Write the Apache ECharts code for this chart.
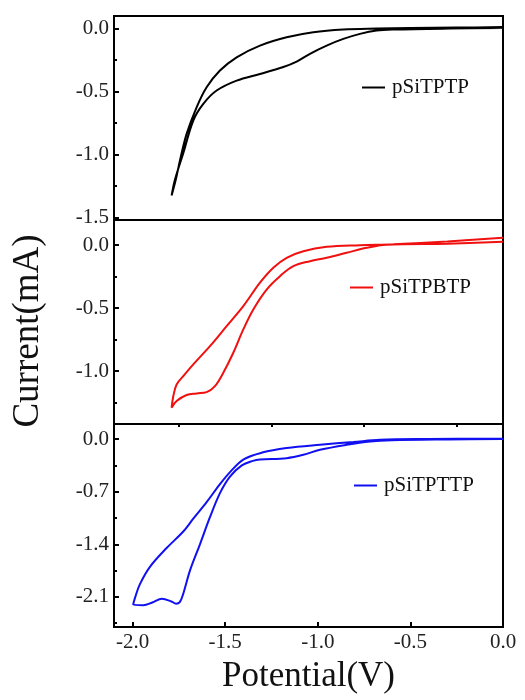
<!DOCTYPE html>
<html>
<head>
<meta charset="utf-8">
<script src="https://cdn.jsdelivr.net/npm/echarts@6/dist/echarts.min.js"></script>
<style>
  html, body { margin: 0; padding: 0; background: #fff; }
  #chart { width: 525px; height: 700px; }
</style>
</head>
<body>
<div id="chart"></div>
<script>
// [potential (V), current (mA)] - closed CV loops
var loopTPTP = [
  [0, 0.004], [-0.286, 0.0], [-0.592, -0.008], [-0.682, -0.016], [-0.772, -0.042],
  [-0.862, -0.082], [-0.952, -0.135], [-1.042, -0.2], [-1.114, -0.262], [-1.186, -0.305],
  [-1.312, -0.36], [-1.438, -0.413], [-1.546, -0.492], [-1.618, -0.598], [-1.672, -0.73],
  [-1.726, -0.99], [-1.771, -1.2], [-1.789, -1.325],
  [-1.765, -1.19], [-1.744, -1.048], [-1.708, -0.836], [-1.654, -0.625], [-1.6, -0.466],
  [-1.528, -0.333], [-1.438, -0.228], [-1.312, -0.135], [-1.168, -0.069], [-1.024, -0.029],
  [-0.862, -0.008], [-0.682, 0.0], [-0.502, 0.005], [-0.25, 0.008], [0, 0.012]
]
var loopTPBTP = [
  [0, 0.027], [-0.3, 0.012], [-0.628, 0.003], [-0.736, -0.021], [-0.844, -0.06],
  [-0.952, -0.1], [-1.042, -0.127], [-1.132, -0.167], [-1.204, -0.246], [-1.276, -0.352],
  [-1.348, -0.51], [-1.402, -0.669], [-1.456, -0.854], [-1.51, -1.013], [-1.555, -1.119],
  [-1.6, -1.167], [-1.654, -1.177], [-1.708, -1.19], [-1.762, -1.238], [-1.789, -1.29],
  [-1.78, -1.2], [-1.762, -1.106], [-1.726, -1.04], [-1.672, -0.947], [-1.582, -0.802],
  [-1.492, -0.643], [-1.402, -0.484], [-1.312, -0.298], [-1.24, -0.179], [-1.168, -0.1],
  [-1.078, -0.048], [-0.952, -0.013], [-0.772, 0.0], [-0.592, 0.008], [-0.3, 0.03], [0, 0.06]
]
var loopTPTTP = [
  [0, 0.0], [-0.3, -0.005], [-0.6, -0.015], [-0.718, -0.032], [-0.844, -0.076],
  [-0.988, -0.143], [-1.078, -0.21], [-1.168, -0.254], [-1.312, -0.272], [-1.35, -0.29],
  [-1.41, -0.35], [-1.474, -0.5], [-1.528, -0.72], [-1.582, -1.04], [-1.636, -1.4],
  [-1.69, -1.75], [-1.726, -2.057], [-1.745, -2.17], [-1.765, -2.19], [-1.79, -2.16],
  [-1.842, -2.124], [-1.89, -2.17], [-1.942, -2.21], [-1.996, -2.205],
  [-1.985, -2.1], [-1.96, -1.93], [-1.906, -1.7], [-1.816, -1.45], [-1.726, -1.23],
  [-1.672, -1.06], [-1.6, -0.84], [-1.528, -0.6], [-1.47, -0.43], [-1.4, -0.27],
  [-1.3, -0.18], [-1.168, -0.12], [-0.988, -0.076], [-0.808, -0.04], [-0.664, -0.01],
  [-0.4, 0.0], [0, 0.005]
]

var xTicks = [-2.0, -1.5, -1.0, -0.5, 0.0]
var xMinor = [-1.75, -1.25, -0.75, -0.25]
var yTicksTop = [-1.5, -1.0, -0.5, 0.0]
var yMinorTop = [-1.25, -0.75, -0.25]
var yTicksMid = [-1.0, -0.5, 0.0]
var yMinorMid = [-1.25, -0.75, -0.25]
var yTicksBot = [-2.1, -1.4, -0.7, 0.0]
var yMinorBot = [-2.45, -1.75, -1.05, -0.35]

var serif = 'Liberation Serif'
var fmt = function (v) { return v.toFixed(1) }

function yMain (grid, min, max, ticks) {
  return {
    type: 'value', gridIndex: grid, min: min, max: max, position: 'left',
    splitLine: { show: false },
    axisLine: { show: true, onZero: false, lineStyle: { color: '#000', width: 2 } },
    axisTick: { show: true, inside: true, length: 5, customValues: ticks, lineStyle: { color: '#000', width: 2 } },
    axisLabel: { show: true, customValues: ticks, formatter: fmt, margin: 5,
      fontFamily: serif, fontSize: 21, color: '#222' }
  }
}
function yMinor (grid, min, max, ticks) {
  return {
    type: 'value', gridIndex: grid, min: min, max: max, position: 'left',
    splitLine: { show: false },
    axisLine: { show: false, onZero: false },
    axisTick: { show: true, inside: true, length: 3, customValues: ticks, lineStyle: { color: '#000', width: 2 } },
    axisLabel: { show: false }
  }
}
function xPlain (grid) {
  return {
    type: 'value', gridIndex: grid, min: -2.1, max: 0,
    splitLine: { show: false },
    axisLine: { show: true, onZero: false, lineStyle: { color: '#000', width: 2 } },
    axisTick: { show: false }, axisLabel: { show: false }
  }
}
function legendAt (name, left, top) {
  return {
    data: [name], left: left, top: top, icon: 'rect', itemWidth: 23, itemHeight: 2,
    textStyle: { fontFamily: serif, fontSize: 21, color: '#111', padding: [0, 0, 0, 2] }
  }
}

var chart = echarts.init(document.getElementById('chart'))
var option = {
  animation: false,
  backgroundColor: '#fff',
  grid: [
    { left: 114, right: 22, top: 16, height: 204, show: true, borderColor: '#000', borderWidth: 2 },
    { left: 114, right: 22, top: 220, height: 204, show: true, borderColor: '#000', borderWidth: 2 },
    { left: 114, right: 22, top: 424, height: 203, show: true, borderColor: '#000', borderWidth: 2 }
  ],
  xAxis: [
    xPlain(0),
    xPlain(1),
    {
      type: 'value', gridIndex: 2, min: -2.1, max: 0,
      splitLine: { show: false },
      axisLine: { show: true, onZero: false, lineStyle: { color: '#000', width: 2 } },
      axisTick: { show: true, inside: true, length: 5, customValues: xTicks, lineStyle: { color: '#000', width: 2 } },
      axisLabel: { show: true, customValues: xTicks, formatter: fmt, margin: 5,
        fontFamily: serif, fontSize: 21, color: '#222' },
      name: 'Potential(V)', nameLocation: 'middle', nameGap: 32,
      nameTextStyle: { fontFamily: serif, fontSize: 35, color: '#111' }
    },
    {
      type: 'value', gridIndex: 2, min: -2.1, max: 0,
      splitLine: { show: false }, axisLine: { show: false, onZero: false },
      axisTick: { show: true, inside: true, length: 3, customValues: xMinor, lineStyle: { color: '#000', width: 2 } },
      axisLabel: { show: false }
    }
  ],
  yAxis: [
    yMain(0, -1.52, 0.1, yTicksTop), yMinor(0, -1.52, 0.1, yMinorTop),
    yMain(1, -1.42, 0.2, yTicksMid), yMinor(1, -1.42, 0.2, yMinorMid),
    yMain(2, -2.5, 0.2, yTicksBot), yMinor(2, -2.5, 0.2, yMinorBot)
  ],
  legend: [
    legendAt('pSiTPTP', 357, 72),
    legendAt('pSiTPBTP', 345, 272),
    legendAt('pSiTPTTP', 349, 470)
  ],
  graphic: [
    { type: 'text', x: 28, y: 331, rotation: Math.PI / 2,
      style: { text: 'Current(mA)', fontFamily: serif, fontSize: 37, fill: '#111',
        align: 'center', verticalAlign: 'middle' } }
  ],
  series: [
    { name: 'pSiTPTP', type: 'line', xAxisIndex: 0, yAxisIndex: 0, data: loopTPTP,
      symbol: 'none', smooth: 0.35, color: '#000', lineStyle: { width: 2 } },
    { name: 'pSiTPBTP', type: 'line', xAxisIndex: 1, yAxisIndex: 2, data: loopTPBTP,
      symbol: 'none', smooth: 0.35, color: '#f01010', lineStyle: { width: 2 } },
    { name: 'pSiTPTTP', type: 'line', xAxisIndex: 2, yAxisIndex: 4, data: loopTPTTP,
      symbol: 'none', smooth: 0.35, color: '#1010f0', lineStyle: { width: 2 } }
  ]
}
chart.setOption(option)
</script>
</body>
</html>
